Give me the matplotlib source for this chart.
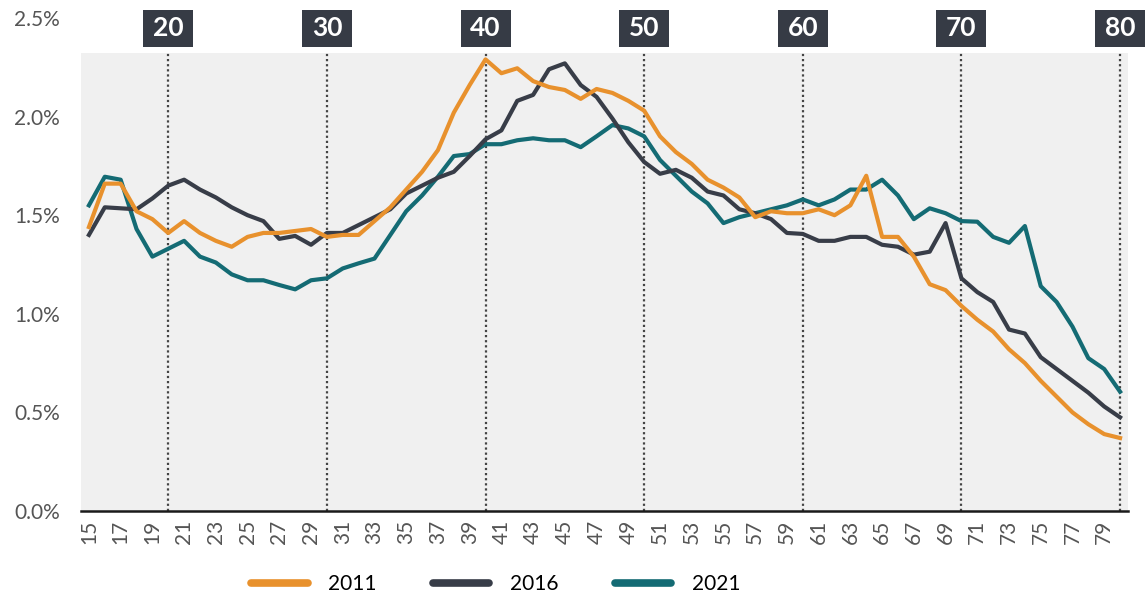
import numpy as np
import matplotlib.pyplot as plt
from matplotlib.patches import Rectangle
from matplotlib.lines import Line2D

plt.rcParams['font.family'] = ['Lato', 'DejaVu Sans']

ages = np.arange(15, 81)

v2011 = [1.44, 1.66, 1.66, 1.52, 1.48, 1.41, 1.47, 1.41, 1.37, 1.34,
         1.39, 1.41, 1.41, 1.42, 1.43, 1.39, 1.40, 1.40, 1.47, 1.54,
         1.63, 1.72, 1.83, 2.02, 2.16, 2.29, 2.22, 2.245, 2.18, 2.15,
         2.135, 2.09, 2.14, 2.12, 2.08, 2.03, 1.90, 1.82, 1.76, 1.68,
         1.64, 1.59, 1.49, 1.52, 1.51, 1.51, 1.53, 1.50, 1.55, 1.70,
         1.39, 1.39, 1.29, 1.15, 1.12, 1.04, 0.97, 0.91, 0.82, 0.75,
         0.66, 0.58, 0.50, 0.44, 0.39, 0.37]

v2016 = [1.40, 1.54, 1.535, 1.53, 1.585, 1.65, 1.68, 1.63, 1.59, 1.54,
         1.50, 1.47, 1.38, 1.395, 1.35, 1.41, 1.41, 1.45, 1.49, 1.53,
         1.61, 1.65, 1.69, 1.72, 1.80, 1.885, 1.93, 2.08, 2.11, 2.24,
         2.27, 2.16, 2.10, 1.99, 1.87, 1.77, 1.71, 1.73, 1.69, 1.62,
         1.60, 1.53, 1.51, 1.48, 1.41, 1.405, 1.37, 1.37, 1.39, 1.39,
         1.35, 1.34, 1.30, 1.315, 1.46, 1.18, 1.11, 1.06, 0.92, 0.90,
         0.78, 0.72, 0.66, 0.60, 0.53, 0.475]

v2021 = [1.55, 1.695, 1.68, 1.43, 1.29, 1.33, 1.37, 1.29, 1.26, 1.20,
         1.17, 1.17, 1.146, 1.124, 1.17, 1.18, 1.23, 1.256, 1.28, 1.40,
         1.52, 1.60, 1.695, 1.80, 1.81, 1.86, 1.86, 1.88, 1.89, 1.88,
         1.88, 1.845, 1.90, 1.957, 1.94, 1.90, 1.78, 1.70, 1.62, 1.56,
         1.46, 1.49, 1.51, 1.53, 1.55, 1.58, 1.55, 1.58, 1.63, 1.63,
         1.68, 1.60, 1.48, 1.535, 1.51, 1.47, 1.467, 1.39, 1.36, 1.445,
         1.14, 1.06, 0.935, 0.775, 0.72, 0.605]

decades = [20, 30, 40, 50, 60, 70, 80]
yticks = [0.0, 0.5, 1.0, 1.5, 2.0, 2.5]

c2011 = '#E8912D'
c2016 = '#383D48'
c2021 = '#146B74'

fig = plt.figure(figsize=(11.47, 5.99), dpi=100)
ax = fig.add_axes([81 / 1147, 1 - 511 / 599, 1047 / 1147, 493 / 599])
ax.set_facecolor('white')
ax.set_xlim(14.5, 80.5)
ax.set_ylim(0, 2.5)

# grey plotting band stops below the decade labels
ax.axhspan(0, 2.322, color='#f0f0f0', zorder=0, lw=0)
ax.vlines(decades, 0, 2.322, colors='#444444', linestyles=(0, (1, 1.3)),
          lw=1.6, zorder=1)

ax.plot(ages, v2021, color=c2021, lw=3, zorder=3)
ax.plot(ages, v2016, color=c2016, lw=3, zorder=4)
ax.plot(ages, v2011, color=c2011, lw=3, zorder=5)

bw, bh = 3.15, 0.188
for d in decades:
    ax.add_patch(Rectangle((d - bw / 2, 2.353), bw, bh, facecolor='#363B45',
                           edgecolor='none', clip_on=False, zorder=6))
    ax.text(d, 2.447, str(d), ha='center', va='center', color='white',
            fontsize=19, fontweight='bold', zorder=7, clip_on=False)

ax.set_xticks(ages[::2])
ax.set_xticklabels([str(a) for a in ages[::2]], rotation=90)
ax.set_yticks(yticks)
ax.set_yticklabels([f'{t:.1f}%' for t in yticks])
ax.tick_params(axis='x', length=0, pad=6, labelsize=15, labelcolor='#555555')
ax.tick_params(axis='y', length=0, pad=15, labelsize=15, labelcolor='#555555')

for s in ['top', 'left', 'right']:
    ax.spines[s].set_visible(False)
ax.spines['bottom'].set_linewidth(1.8)
ax.spines['bottom'].set_color('#1a1a1a')
ax.spines['bottom'].set_zorder(8)

handles = [Line2D([], [], color=c, lw=5.5, solid_capstyle='round')
           for c in (c2011, c2016, c2021)]
fig.legend(handles, ['2011', '2016', '2021'], ncol=3, loc='center',
           bbox_to_anchor=(496 / 1147, 1 - 584 / 599), frameon=False,
           fontsize=15, handlelength=2.7, handletextpad=1.0,
           columnspacing=2.7)

fig.savefig('out.png', dpi=100)
